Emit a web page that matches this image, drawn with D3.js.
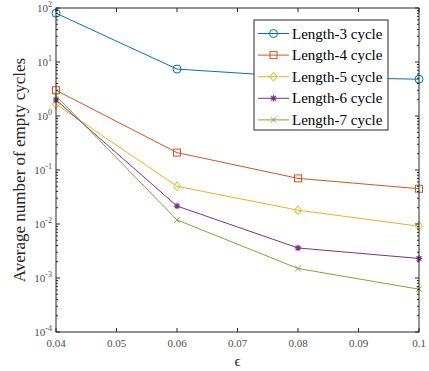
<!DOCTYPE html>
<html>
<head>
<meta charset="utf-8">
<script src="https://cdn.jsdelivr.net/npm/d3@7"></script>
<style>
  body { margin: 0; background: #fff; }
</style>
</head>
<body>
<div id="chart"></div>
<script>
const epsilons = [0.04, 0.06, 0.08, 0.1];
const seriesNames = ["Length-3 cycle", "Length-4 cycle", "Length-5 cycle", "Length-6 cycle", "Length-7 cycle"];
const len3 = [80, 7.4, 5.3, 4.8];
const len4 = [3.0, 0.21, 0.070, 0.045];
const len5 = [1.65, 0.05, 0.018, 0.0091];
const len6 = [1.98, 0.0215, 0.0036, 0.0023];
const len7 = [2.38, 0.0119, 0.0015, 0.00062];
const xTicks = [0.04, 0.05, 0.06, 0.07, 0.08, 0.09, 0.1];
const yTicks = [-4, -3, -2, -1, 0, 1, 2];

const colors = ["#0072BD", "#D95319", "#EDB120", "#7E2F8E", "#77AC30"];
const markers = ["circle", "square", "diamond", "asterisk", "cross"];
const allSeries = [len3, len4, len5, len6, len7];

const serif = "Liberation Serif";
const width = 429, height = 371;
const margin = { left: 56, right: 10, top: 8, bottom: 39 };

const svg = d3.select("#chart").append("svg")
    .attr("width", width)
    .attr("height", height)
    .attr("font-family", serif);

const xScale = d3.scaleLinear()
    .domain([0.04, 0.1])
    .range([margin.left, width - margin.right]);

const yScale = d3.scaleLog()
    .domain([1e-4, 1e2])
    .range([height - margin.bottom, margin.top]);

const axisColor = "#262626";
const x0 = xScale.range()[0], x1 = xScale.range()[1];
const y0 = yScale.range()[0], y1 = yScale.range()[1];

// lines and markers
const line = d3.line()
    .x((d, i) => xScale(epsilons[i]))
    .y(d => yScale(d));

function drawMarker(g, type, color, cx, cy) {
    if (type === "circle") {
        g.append("circle").attr("cx", cx).attr("cy", cy).attr("r", 4)
            .attr("fill", "none").attr("stroke", color).attr("stroke-width", 1);
    } else if (type === "square") {
        g.append("rect").attr("x", cx - 3.5).attr("y", cy - 3.5).attr("width", 7).attr("height", 7)
            .attr("fill", "none").attr("stroke", color).attr("stroke-width", 1);
    } else if (type === "diamond") {
        g.append("path").attr("d", `M${cx},${cy - 4.5}L${cx + 3.5},${cy}L${cx},${cy + 4.5}L${cx - 3.5},${cy}Z`)
            .attr("fill", "none").attr("stroke", color).attr("stroke-width", 1);
    } else if (type === "asterisk") {
        const r = 3.2;
        g.append("path").attr("d",
            `M${cx - r},${cy}L${cx + r},${cy}M${cx},${cy - r}L${cx},${cy + r}` +
            `M${cx - r * 0.75},${cy - r * 0.75}L${cx + r * 0.75},${cy + r * 0.75}` +
            `M${cx - r * 0.75},${cy + r * 0.75}L${cx + r * 0.75},${cy - r * 0.75}`)
            .attr("stroke", color).attr("stroke-width", 1.2);
    } else {
        const r = 2.8;
        g.append("path").attr("d",
            `M${cx - r},${cy - r}L${cx + r},${cy + r}M${cx - r},${cy + r}L${cx + r},${cy - r}`)
            .attr("stroke", color).attr("stroke-width", 1);
    }
}

const plot = svg.append("g");
allSeries.forEach((vals, k) => {
    plot.append("path")
        .datum(vals)
        .attr("d", line)
        .attr("fill", "none")
        .attr("stroke", colors[k])
        .attr("stroke-width", 1);
    vals.forEach((v, i) => drawMarker(plot, markers[k], colors[k], xScale(epsilons[i]), yScale(v)));
});

// axes box
svg.append("rect")
    .attr("x", x0).attr("y", y1)
    .attr("width", x1 - x0).attr("height", y0 - y1)
    .attr("fill", "none").attr("stroke", axisColor).attr("stroke-width", 1);

const tickLen = 4;
// x ticks (inside, bottom and top)
xTicks.forEach(t => {
    const x = xScale(t);
    svg.append("line").attr("x1", x).attr("x2", x).attr("y1", y0).attr("y2", y0 - tickLen)
        .attr("stroke", axisColor);
    svg.append("line").attr("x1", x).attr("x2", x).attr("y1", y1).attr("y2", y1 + tickLen)
        .attr("stroke", axisColor);
    svg.append("text")
        .attr("x", x).attr("y", y0 + 15)
        .attr("text-anchor", "middle")
        .attr("font-family", serif)
        .attr("font-size", 11)
        .attr("fill", "#4d4d4d")
        .text(t === 0.1 ? "0.1" : t.toFixed(2));
});

// y ticks major and minor
yTicks.forEach(p => {
    const y = yScale(Math.pow(10, p));
    svg.append("line").attr("x1", x0).attr("x2", x0 + tickLen).attr("y1", y).attr("y2", y)
        .attr("stroke", axisColor);
    svg.append("line").attr("x1", x1).attr("x2", x1 - tickLen).attr("y1", y).attr("y2", y)
        .attr("stroke", axisColor);
    const lbl = svg.append("text")
        .attr("x", x0 - 4).attr("y", y + 4)
        .attr("text-anchor", "end")
        .attr("font-family", serif)
        .attr("font-size", 11)
        .attr("fill", "#4d4d4d");
    lbl.append("tspan").text("10");
    lbl.append("tspan").attr("dy", -5).attr("font-size", 8).text(p);
    if (p < 2) {
        for (let m = 2; m <= 9; m++) {
            const ym = yScale(m * Math.pow(10, p));
            svg.append("line").attr("x1", x0).attr("x2", x0 + 2).attr("y1", ym).attr("y2", ym)
                .attr("stroke", axisColor);
            svg.append("line").attr("x1", x1).attr("x2", x1 - 2).attr("y1", ym).attr("y2", ym)
                .attr("stroke", axisColor);
        }
    }
});

// axis labels
svg.append("text")
    .attr("transform", `translate(25,${(y0 + y1) / 2}) rotate(-90)`)
    .attr("text-anchor", "middle")
    .attr("font-family", serif)
    .attr("font-size", 17)
    .attr("fill", "#262626")
    .text("Average number of empty cycles");

svg.append("text")
    .attr("x", (x0 + x1) / 2).attr("y", 366)
    .attr("text-anchor", "middle")
    .attr("font-family", serif)
    .attr("font-size", 15)
    .attr("fill", "#262626")
    .text("\u03f5");

// legend
const legend = svg.append("g");
legend.append("rect")
    .attr("x", 254).attr("y", 20).attr("width", 134).attr("height", 110)
    .attr("fill", "#fff").attr("stroke", "#262626").attr("stroke-width", 1);
seriesNames.forEach((name, k) => {
    const ly = 33.5 + k * 21.6;
    legend.append("line").attr("x1", 258).attr("x2", 289).attr("y1", ly).attr("y2", ly)
        .attr("stroke", colors[k]).attr("stroke-width", 1);
    drawMarker(legend, markers[k], colors[k], 273.5, ly);
    legend.append("text")
        .attr("x", 292).attr("y", ly + 5)
        .attr("font-family", serif)
        .attr("font-size", 15)
        .attr("fill", "#000")
        .text(name);
});
</script>
</body>
</html>
